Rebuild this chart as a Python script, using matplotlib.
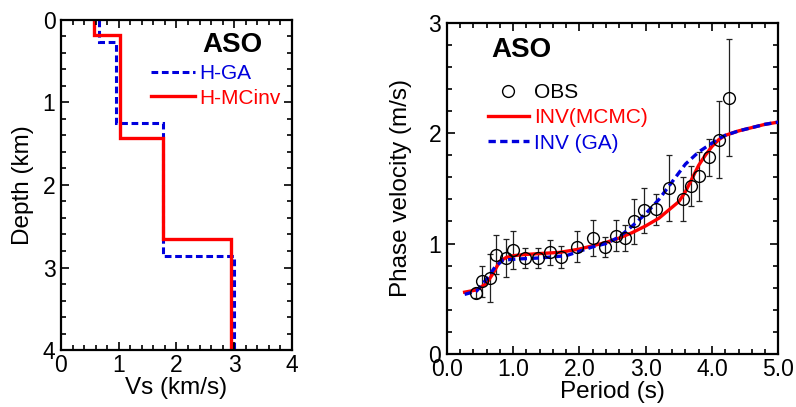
import matplotlib
matplotlib.use("Agg")
import matplotlib.pyplot as plt
from matplotlib.ticker import MultipleLocator, FormatStrFormatter

plt.rcParams['font.family'] = ['Liberation Sans', 'DejaVu Sans']

# ---- Left panel: Vs profiles ----
ga_vs = [0.66, 0.96, 1.77, 2.99]
ga_edges = [0.0, 0.27, 1.25, 2.86, 4.0]
mc_vs = [0.58, 1.03, 1.77, 2.95]
mc_edges = [0.0, 0.18, 1.43, 2.66, 4.0]

# ---- Right panel: dispersion ----
obs_T = [0.44, 0.53, 0.66, 0.74, 0.89, 1.00, 1.18, 1.37, 1.55, 1.72, 1.96, 2.20, 2.39,
         2.55, 2.69, 2.83, 2.98, 3.15, 3.35, 3.56, 3.68, 3.81, 3.95, 4.10, 4.26]
obs_v = [0.555, 0.66, 0.69, 0.90, 0.87, 0.94, 0.87, 0.87, 0.92, 0.88, 0.97, 1.05, 0.97,
         1.07, 1.05, 1.20, 1.30, 1.31, 1.50, 1.40, 1.52, 1.61, 1.78, 1.94, 2.32]
obs_err = [0.045, 0.14, 0.22, 0.18, 0.17, 0.17, 0.09, 0.09, 0.11, 0.10, 0.14, 0.16, 0.09,
           0.14, 0.12, 0.20, 0.20, 0.14, 0.30, 0.20, 0.18, 0.22, 0.17, 0.35, 0.53]

mcmc_T = [0.27, 0.45, 0.60, 0.70, 0.80, 0.90, 1.00, 1.16, 1.41, 1.70, 2.00, 2.20, 2.40,
          2.60, 2.80, 3.00, 3.20, 3.40, 3.50, 3.60, 3.70, 3.80, 3.90, 4.00, 4.10, 4.20,
          4.40, 4.60, 4.80, 5.00]
mcmc_v = [0.56, 0.58, 0.64, 0.73, 0.84, 0.875, 0.89, 0.90, 0.91, 0.92, 0.95, 0.98, 1.01,
          1.05, 1.10, 1.16, 1.23, 1.33, 1.38, 1.47, 1.59, 1.71, 1.80, 1.88, 1.94, 1.98,
          2.02, 2.05, 2.08, 2.10]

ga_T = [0.27, 0.45, 0.63, 0.73, 0.85, 1.06, 1.41, 1.80, 2.00, 2.20, 2.40, 2.60, 2.80,
        3.00, 3.20, 3.40, 3.60, 3.80, 4.00, 4.10, 4.20, 4.40, 4.60, 4.80, 5.00]
ga_v = [0.54, 0.57, 0.70, 0.79, 0.85, 0.86, 0.87, 0.89, 0.93, 0.97, 1.00, 1.06, 1.16,
        1.27, 1.40, 1.56, 1.72, 1.83, 1.91, 1.95, 1.98, 2.02, 2.05, 2.08, 2.10]

RED = '#ff0000'
BLUE = '#0000dd'

fig = plt.figure(figsize=(7.96, 4.07), dpi=100)
ax1 = fig.add_axes([0.0766, 0.140, 0.2902, 0.811])
ax2 = fig.add_axes([0.5612, 0.1302, 0.4166, 0.814])

def style(ax, xmaj, xmin, ymaj, ymin):
    for s in ax.spines.values():
        s.set_linewidth(1.6)
    ax.xaxis.set_major_locator(MultipleLocator(xmaj))
    ax.xaxis.set_minor_locator(MultipleLocator(xmin))
    ax.yaxis.set_major_locator(MultipleLocator(ymaj))
    ax.yaxis.set_minor_locator(MultipleLocator(ymin))
    ax.tick_params(which='both', direction='in', top=True, right=True,
                   labelsize=16.5, width=1.2)
    ax.tick_params(which='major', length=6)
    ax.tick_params(which='minor', length=3.5)
    ax.tick_params(axis='x', pad=3)
    ax.tick_params(axis='y', pad=4)

# Left
ax1.stairs(ga_vs, ga_edges, orientation='horizontal', baseline=None,
           color=BLUE, lw=2.2, ls=(0, (2.2, 1.2)), label='H-GA')
ax1.stairs(mc_vs, mc_edges, orientation='horizontal', baseline=None,
           color=RED, lw=2.4, label='H-MCinv')
ax1.set_xlim(0, 4)
ax1.set_ylim(4, 0)
style(ax1, 1, 0.2, 1, 0.2)
ax1.set_xlabel('Vs (km/s)', fontsize=17.5, labelpad=0)
ax1.set_ylabel('Depth (km)', fontsize=17.5, labelpad=6)
ax1.text(0.74, 0.924, 'ASO', transform=ax1.transAxes, fontsize=20,
         fontweight='bold', ha='center', va='center')
leg1 = ax1.legend(loc='center left', bbox_to_anchor=(0.39, 0.80), frameon=False,
                  fontsize=15, handlelength=2.1, handletextpad=0.2,
                  labelspacing=0.25, borderaxespad=0, borderpad=0)
for t, c in zip(leg1.get_texts(), [BLUE, RED]):
    t.set_color(c)

# Right
ax2.errorbar(obs_T, obs_v, yerr=obs_err, fmt='none', ecolor='#222222',
             elinewidth=0.9, capsize=2.5, capthick=0.9, zorder=2)
ax2.plot(mcmc_T, mcmc_v, color=RED, lw=2.4, zorder=3, label='INV(MCMC)')
ax2.plot(ga_T, ga_v, color=BLUE, lw=2.4, ls=(0, (2.2, 1.3)), zorder=4, label='INV (GA)')
ax2.plot(obs_T, obs_v, 'o', mfc='none', mec='black', mew=1.0, ms=8.5, zorder=5,
         label='OBS')
ax2.set_xlim(0, 5)
ax2.set_ylim(0, 3)
style(ax2, 1, 0.2, 1, 0.2)
ax2.xaxis.set_major_formatter(FormatStrFormatter('%.1f'))
ax2.set_xlabel('Period (s)', fontsize=17.5, labelpad=0)
ax2.set_ylabel('Phase velocity (m/s)', fontsize=17.5, labelpad=12)
ax2.text(0.226, 0.918, 'ASO', transform=ax2.transAxes, fontsize=20,
         fontweight='bold', ha='center', va='center')
h, l = ax2.get_legend_handles_labels()
order = [2, 0, 1]
leg2 = ax2.legend([h[i] for i in order], [l[i] for i in order], loc='center left',
                  bbox_to_anchor=(0.125, 0.713), frameon=False, fontsize=15,
                  handlelength=1.95, handletextpad=0.25, labelspacing=0.3,
                  borderaxespad=0, borderpad=0)
for t, c in zip(leg2.get_texts(), ['black', RED, BLUE]):
    t.set_color(c)

fig.savefig('out.png', dpi=100)
